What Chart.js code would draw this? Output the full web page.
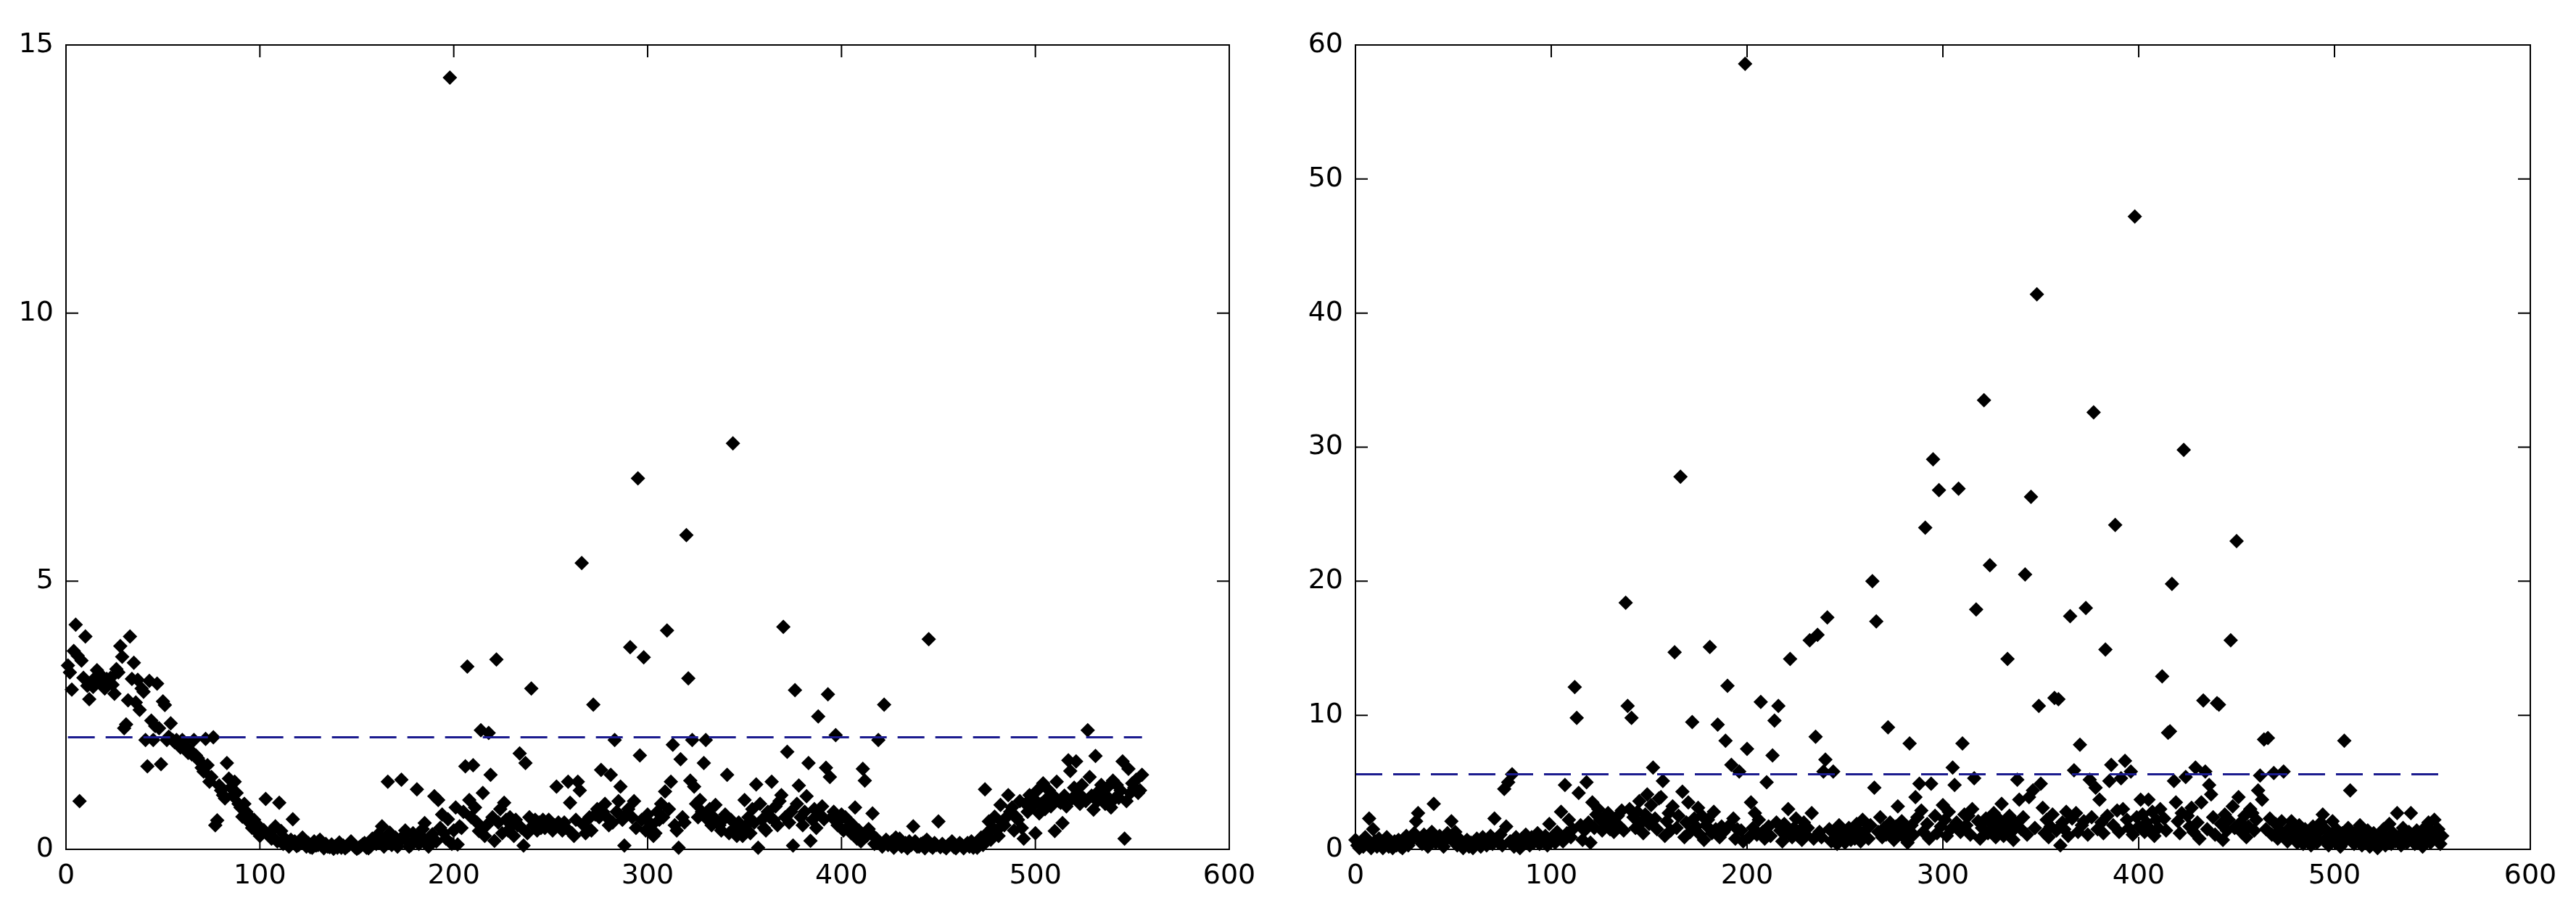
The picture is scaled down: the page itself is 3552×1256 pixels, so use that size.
<!DOCTYPE html>
<html>
<head>
<meta charset="utf-8">
<script src="https://cdn.jsdelivr.net/npm/chart.js@4.4.1/dist/chart.umd.min.js"></script>
<style>
  body { margin: 0; background: #fff; width: 3552px; height: 1256px; overflow: hidden; position: relative; }
  .panel { position: absolute; top: 0; height: 1256px; }
</style>
</head>
<body>
<div class="panel" style="left:0;width:1755px"><canvas id="leftChart" width="1755" height="1256"></canvas></div>
<div class="panel" style="left:1775px;width:1777px"><canvas id="rightChart" width="1777" height="1256"></canvas></div>
<script>
// left panel: sample index / value
const leftIndex = [
  1,2,3,4,5,6,7,8,9,10,
  11,12,13,14,15,16,17,18,19,20,
  21,22,24,26,28,29,30,31,32,33,
  34,35,36,37,39,40,41,42,43,44,
  45,47,48,49,50,51,52,54,55,57,
  58,60,62,64,65,66,68,69,70,72,
  73,74,76,77,78,79,81,83,84,85,
  87,88,90,91,92,93,94,96,97,99,
  100,101,102,103,105,106,108,109,110,111,
  112,113,115,117,118,120,121,122,124,125,
  127,128,130,131,133,134,136,138,139,141,
  142,144,146,147,149,150,152,154,155,157,
  158,160,161,162,163,164,166,167,169,170,
  171,173,174,176,178,179,181,182,184,185,
  187,188,190,191,192,194,195,197,198,199,
  200,201,202,203,204,205,206,207,208,209,
  210,211,212,213,214,215,216,218,219,220,
  221,222,223,224,226,227,228,229,230,231,
  232,234,235,236,237,238,240,241,242,243,
  244,245,246,248,250,251,253,254,255,256,
  258,259,260,261,262,264,265,266,267,268,
  269,270,272,273,274,276,277,278,279,281,
  282,283,284,285,286,287,288,289,290,291,
  292,293,294,295,296,297,298,299,300,301,
  302,303,305,306,307,308,309,310,311,312,
  313,314,315,316,317,318,320,321,322,323,
  324,325,327,328,329,330,331,332,334,335,
  336,337,338,339,341,342,344,345,346,347,
  348,350,351,352,353,354,356,357,358,359,
  360,362,364,365,366,367,368,369,370,371,
  372,373,374,375,376,377,378,379,380,382,
  383,384,385,386,387,388,389,390,391,392,
  393,394,395,396,397,398,399,400,401,402,
  403,404,405,406,407,408,409,410,411,412,
  413,414,416,417,418,419,420,421,422,423,
  424,426,427,429,430,431,433,434,436,437,
  438,440,441,443,444,445,446,448,450,451,
  452,454,455,457,458,460,461,463,464,466,
  467,469,470,472,473,474,475,476,477,478,
  479,480,481,482,483,484,486,487,488,489,
  490,491,492,493,494,495,496,497,498,499,
  500,501,502,503,504,505,506,507,508,509,
  510,511,512,513,514,515,516,517,518,519,
  520,521,522,523,524,525,526,527,528,529,
  530,531,532,533,535,536,537,539,540,541,
  542,543,544,545,546,547,548,549,550,551,
  552,553,554,555,
  23,25,27,38,46,53,56,59,61,63,
  67,71,75,80,82,86,89,95,98,104,
  107,114,116,119,123,126,129,132,135,137,
  140,143,145,148,151,153,156,159,165,168,
  172,175,177,180,183,186,189,193,196,217,
  225,233,239,247,249,252,257,263,271,275,
  280,304,319,326,333,340,343,349,355,361,
  363,381,415,425,428,432,435,439,442,447,
  449,453,456,459,462,465,468,471,485,534,
  538
];
const leftValue = [
  3.43,3.30,2.98,3.70,4.19,3.61,0.90,3.52,3.20,3.97,
  3.05,2.80,3.10,3.03,3.20,3.34,3.15,3.25,3.10,3.00,
  3.18,3.10,3.07,3.36,3.79,3.59,2.26,2.33,2.78,3.97,
  3.18,3.48,2.74,3.16,3.00,2.94,2.04,1.55,3.14,2.40,
  2.04,3.09,2.26,1.59,2.76,2.69,2.04,2.35,2.04,2.04,
  1.95,2.04,1.86,1.85,1.77,2.04,1.70,1.64,1.52,2.06,
  1.57,1.26,2.09,0.45,0.54,1.19,1.01,1.61,1.32,1.15,
  1.26,1.05,0.78,0.61,0.85,0.70,0.52,0.40,0.55,0.45,
  0.25,0.30,0.36,0.94,0.30,0.20,0.43,0.15,0.87,0.34,
  0.10,0.20,0.05,0.56,0.15,0.08,0.12,0.22,0.05,0.12,
  0.03,0.15,0.08,0.18,0.02,0.10,0.04,0.01,0.06,0.13,
  0.03,0.02,0.08,0.15,0.04,0.01,0.06,0.12,0.03,0.05,
  0.20,0.10,0.28,0.18,0.43,0.05,1.26,0.31,0.12,0.22,
  0.05,1.30,0.25,0.15,0.08,0.30,1.12,0.10,0.38,0.49,
  0.05,0.20,0.99,0.15,0.92,0.65,0.30,0.56,14.39,0.10,
  0.35,0.78,0.09,0.43,0.40,0.70,1.55,3.41,0.92,0.60,
  1.57,0.78,0.50,0.34,2.22,1.05,0.25,2.17,1.39,0.60,
  0.16,3.54,0.50,0.75,0.87,0.55,0.35,0.60,0.45,0.25,
  0.55,1.79,0.40,0.07,1.61,0.30,3.00,0.45,0.55,0.35,
  0.50,0.40,0.55,0.45,0.50,0.35,1.17,0.50,0.45,0.35,
  0.40,1.26,0.87,0.30,0.25,1.26,1.10,5.34,0.45,0.30,
  0.55,0.60,2.70,0.65,0.75,1.48,0.70,0.85,0.60,1.39,
  0.50,2.04,0.70,0.90,1.17,0.55,0.07,0.65,0.75,3.77,
  0.60,0.90,0.40,6.92,1.75,0.55,3.58,0.35,0.65,0.50,
  0.45,0.25,0.70,0.55,0.85,0.60,1.08,4.08,0.75,1.26,
  1.95,0.45,0.35,0.03,1.68,0.60,5.86,3.19,1.28,2.04,
  1.17,0.85,0.92,0.70,1.61,2.04,0.55,0.75,0.60,0.83,
  0.50,0.45,0.35,0.55,1.39,0.30,7.57,0.40,0.25,0.50,
  0.35,0.92,0.45,0.60,0.30,0.75,1.21,0.03,0.85,0.55,
  0.40,0.70,1.26,0.55,0.80,0.45,0.90,1.01,4.15,0.60,
  1.82,0.50,0.70,0.07,2.97,0.85,1.19,0.60,0.45,0.99,
  1.61,0.16,0.55,0.75,0.40,2.48,0.65,0.80,0.56,1.52,
  2.89,1.35,0.60,0.70,2.13,0.45,0.55,0.65,0.35,0.60,
  0.40,0.52,0.30,0.45,0.78,0.20,0.35,0.15,1.50,1.28,
  0.25,0.38,0.67,0.10,0.20,2.04,0.12,0.05,2.70,0.18,
  0.08,0.15,0.03,0.10,0.20,0.05,0.12,0.02,0.08,0.43,
  0.15,0.05,0.10,0.02,0.18,3.92,0.06,0.12,0.52,0.04,
  0.10,0.02,0.08,0.15,0.04,0.06,0.12,0.02,0.08,0.05,
  0.15,0.10,0.03,0.22,0.08,1.12,0.30,0.52,0.18,0.40,
  0.61,0.35,0.25,0.83,0.50,0.45,1.01,0.70,0.78,0.35,
  0.61,0.55,0.90,0.40,0.20,0.85,0.70,1.01,0.78,0.95,
  0.30,1.10,0.67,0.85,1.23,0.75,0.95,1.10,0.80,1.01,
  0.34,1.26,0.90,0.87,0.49,1.00,0.80,1.66,1.46,0.95,
  1.15,1.64,1.05,0.85,1.20,0.95,0.90,2.22,1.35,1.00,
  0.74,1.74,0.90,1.10,1.01,0.85,1.15,0.78,1.28,0.95,
  1.20,0.96,1.10,1.64,0.20,0.90,1.50,1.05,1.23,1.15,
  1.30,1.05,1.10,1.39,
  3.20,2.90,3.30,2.60,2.30,2.10,2.00,1.90,2.00,1.80,
  1.75,1.45,1.35,1.10,0.95,1.00,0.85,0.60,0.35,0.28,
  0.22,0.12,0.18,0.06,0.10,0.04,0.07,0.12,0.05,0.09,
  0.03,0.07,0.05,0.10,0.03,0.09,0.02,0.14,0.22,0.08,
  0.15,0.35,0.05,0.18,0.25,0.12,0.28,0.40,0.20,0.45,
  0.30,0.45,0.60,0.40,0.55,0.45,0.50,0.55,0.35,0.60,
  0.45,0.30,0.50,0.60,0.45,0.65,0.55,0.25,0.50,0.35,
  0.60,0.70,0.30,0.12,0.22,0.08,0.15,0.05,0.12,0.03,
  0.08,0.05,0.10,0.02,0.08,0.12,0.03,0.07,0.60,1.20,
  0.95
];
const leftThreshold = 2.09;

// right panel: one value per sample, starting at sample 0
const rightStart = 0;
const rightValue = [
  0.7,0.3,0.1,0.5,0.2,0.9,0.4,2.3,0.1,1.5,
  0.6,0.2,0.8,0.3,0.1,0.5,0.9,0.2,0.4,0.1,
  0.6,0.3,0.7,0.2,0.1,0.5,1.0,0.3,0.6,0.9,
  1.2,2.1,2.7,0.8,0.4,1.1,0.6,0.2,0.9,1.3,
  3.4,0.5,0.8,1.0,0.4,0.2,0.7,1.2,0.9,2.1,
  0.6,1.3,0.3,0.8,0.5,0.1,0.4,0.7,0.2,0.5,
  0.1,0.3,0.8,0.5,0.2,0.9,0.6,0.3,0.7,1.0,
  0.4,2.3,0.8,0.5,1.1,0.3,4.5,1.7,5.0,0.6,
  5.6,0.2,0.9,0.5,0.1,0.8,0.4,1.1,0.6,0.3,
  0.9,0.5,0.7,1.2,0.4,0.8,0.6,1.0,0.3,1.9,
  0.7,1.0,0.5,1.3,0.8,2.8,0.6,4.8,1.2,2.2,
  0.9,1.5,12.1,9.8,4.2,1.8,0.7,1.4,5.0,2.0,
  0.5,3.5,1.6,2.6,3.0,2.2,1.4,2.3,1.8,2.7,
  1.5,2.1,1.3,1.9,2.5,1.7,2.9,1.4,18.4,10.7,
  3.0,9.8,2.4,1.6,2.8,3.6,2.0,1.2,2.6,4.1,
  1.9,3.3,6.1,2.3,1.5,3.8,3.9,5.1,1.0,2.1,
  2.7,1.4,3.2,14.7,1.6,2.5,27.8,4.3,0.9,2.0,
  3.5,1.3,9.5,2.3,1.7,3.1,1.1,2.5,0.7,1.8,
  2.2,15.1,1.2,2.8,1.5,9.3,0.9,1.7,1.3,8.1,
  12.2,1.8,6.3,2.3,0.8,1.5,5.8,1.4,0.6,58.6,
  7.5,0.9,3.5,1.6,2.7,1.1,2.2,11.0,1.3,0.8,
  5.0,1.7,1.0,7.0,9.6,2.0,10.7,1.4,0.6,1.9,
  1.2,3.0,14.2,0.9,1.6,2.3,1.0,1.4,0.7,2.0,
  1.1,1.6,15.6,2.7,0.8,8.4,16.0,1.3,0.9,5.8,
  6.7,17.3,1.5,0.6,5.8,1.1,0.4,1.8,0.9,1.3,
  0.5,1.0,1.6,0.7,1.2,0.8,1.9,1.4,0.6,2.2,
  1.0,1.5,0.8,1.8,20.0,4.6,17.0,1.3,2.4,0.9,
  1.6,1.1,9.1,2.0,1.4,0.7,1.7,3.2,1.2,2.1,
  0.9,1.5,0.5,7.9,1.8,1.1,3.9,2.4,4.9,2.9,
  1.3,24.0,1.9,0.8,4.9,29.1,2.5,1.2,26.8,1.7,
  3.3,2.2,1.0,2.8,1.5,6.1,4.8,2.0,26.9,1.3,
  7.9,2.6,1.8,2.5,1.1,3.0,5.3,17.9,2.1,0.8,
  1.6,33.5,2.3,1.2,21.2,1.9,2.7,0.9,1.4,2.2,
  3.4,1.0,1.8,14.2,2.5,1.3,0.7,2.0,5.2,3.7,
  1.5,2.4,20.5,1.1,3.9,26.3,4.4,1.6,41.4,10.7,
  4.9,3.1,1.2,2.2,0.9,1.7,2.6,11.3,1.4,11.2,
  0.3,2.0,1.5,2.8,1.0,17.4,2.3,5.9,2.7,1.3,
  7.8,1.8,2.1,18.0,1.1,5.2,2.4,32.6,4.6,1.5,
  3.7,2.0,1.2,14.9,2.5,5.1,6.3,1.8,24.2,2.9,
  1.3,5.3,3.0,6.6,2.2,1.6,5.8,1.1,47.2,2.4,
  1.7,3.7,2.6,1.3,2.0,3.7,1.5,2.8,1.0,2.2,
  1.6,3.0,12.9,2.3,1.4,8.7,8.8,19.8,5.1,3.5,
  2.1,1.2,2.7,29.8,5.4,2.5,1.7,3.1,1.3,6.1,
  2.0,0.8,3.5,11.1,5.8,1.5,4.8,4.1,2.4,1.1,
  10.9,10.8,1.9,0.7,2.6,1.4,2.2,15.6,3.2,1.6,
  23.0,3.9,2.0,1.2,2.5,0.9,1.7,3.0,2.7,1.4,
  2.2,4.4,5.5,3.7,8.2,1.5,8.3,2.3,1.1,5.7,
  1.9,0.8,1.4,2.1,5.8,1.2,0.6,1.6,2.1,0.9,
  1.3,0.5,1.8,1.0,0.4,1.5,0.8,1.2,0.3,1.7,
  0.9,0.5,1.3,2.0,2.6,0.7,1.4,0.3,1.1,2.1,
  0.6,1.5,0.9,0.2,1.2,8.1,0.7,1.6,4.4,1.0,
  0.4,1.3,0.8,1.8,0.3,1.1,0.6,1.4,0.2,0.9,
  1.2,0.5,0.1,1.0,0.7,1.5,0.3,0.8,1.9,0.4,
  1.2,0.6,2.7,1.0,0.3,1.6,0.8,0.5,1.3,2.7,
  0.9,0.4,1.4,0.7,1.1,0.2,1.6,0.9,2.0,0.5,
  1.3,2.2,0.8,1.5,0.4,1.0
];
const rightThreshold = 5.6;

const xTicks = { min: 0, max: 600, step: 100 };
const leftTicks = { max: 15, step: 5 };
const rightTicks = { max: 60, step: 10 };

const tickFont = { family: 'DejaVu Sans', size: 38 };
const markColor = '#000000';
const thresholdColor = '#1b1b8f';

// MATLAB-like box with inward ticks on all four sides
const boxFrame = {
    id: 'boxFrame',
    afterDatasetsDraw(chart) {
        const { ctx, chartArea: a, scales: { x, y } } = chart;
        const len = 17;
        ctx.save();
        ctx.strokeStyle = '#000';
        ctx.lineWidth = 2;
        ctx.strokeRect(a.left, a.top, a.right - a.left, a.bottom - a.top);
        ctx.beginPath();
        x.ticks.forEach(t => {
            const px = x.getPixelForValue(t.value);
            ctx.moveTo(px, a.bottom); ctx.lineTo(px, a.bottom - len);
            ctx.moveTo(px, a.top); ctx.lineTo(px, a.top + len);
        });
        y.ticks.forEach(t => {
            const py = y.getPixelForValue(t.value);
            ctx.moveTo(a.left, py); ctx.lineTo(a.left + len, py);
            ctx.moveTo(a.right, py); ctx.lineTo(a.right - len, py);
        });
        ctx.stroke();
        ctx.restore();
    }
};

const buildChart = (canvasId, xs, ys, threshold, yTicks, yAxisWidth, rightPad) => {
    const points = xs.map((v, i) => ({ x: v, y: ys[i] }));
    const firstX = Math.min(...xs);
    const lastX = Math.max(...xs);
    new Chart(canvasId, {
        type: 'scatter',
        data: {
            datasets: [
                {
                    type: 'line',
                    data: [{ x: firstX, y: threshold }, { x: lastX, y: threshold }],
                    borderColor: thresholdColor,
                    borderWidth: 3,
                    borderDash: [37, 15],
                    pointRadius: 0,
                    fill: false,
                    order: 0
                },
                {
                    data: points,
                    pointStyle: 'rectRot',
                    pointRadius: 10,
                    backgroundColor: markColor,
                    borderWidth: 0,
                    clip: 14,
                    order: 1
                }
            ]
        },
        options: {
            responsive: false,
            animation: false,
            events: [],
            layout: { padding: { top: 62, bottom: 25, left: 0, right: rightPad } },
            plugins: { legend: { display: false }, tooltip: { enabled: false } },
            scales: {
                x: {
                    type: 'linear',
                    min: xTicks.min,
                    max: xTicks.max,
                    ticks: { stepSize: xTicks.step, padding: 14, color: '#000', font: tickFont, maxRotation: 0 },
                    grid: { display: false, drawTicks: false },
                    border: { display: false },
                    afterFit(scale) { scale.height = 60; }
                },
                y: {
                    type: 'linear',
                    min: 0,
                    max: yTicks.max,
                    ticks: { stepSize: yTicks.step, padding: 17, color: '#000', font: tickFont },
                    grid: { display: false, drawTicks: false },
                    border: { display: false },
                    afterFit(scale) { scale.width = yAxisWidth; }
                }
            }
        },
        plugins: [boxFrame]
    });
};

const rightIndex = rightValue.map((_, i) => rightStart + i);

buildChart('leftChart', leftIndex, leftValue, leftThreshold, leftTicks, 91, 60);
buildChart('rightChart', rightIndex, rightValue, rightThreshold, rightTicks, 94, 63);
</script>
</body>
</html>
